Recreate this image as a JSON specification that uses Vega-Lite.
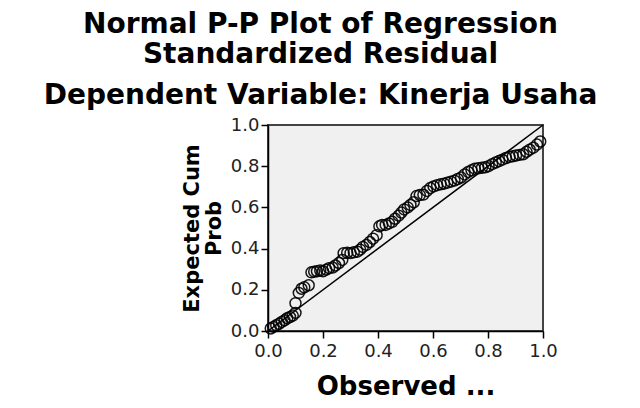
{
  "$schema": "https://vega.github.io/schema/vega-lite/v6.json",
  "autosize": {"type": "none"},
  "padding": {"left": 268, "top": 125, "right": 97, "bottom": 77},
  "width": 275,
  "height": 206,
  "background": "white",
  "title": {
    "text": ["Normal P-P Plot of Regression", "Standardized Residual"],
    "subtitle": "Dependent Variable: Kinerja Usaha",
    "anchor": "middle",
    "frame": "group",
    "dx": -85,
    "font": "DejaVu Sans",
    "fontSize": 28,
    "fontWeight": "bold",
    "lineHeight": 30,
    "color": "black",
    "subtitleFont": "DejaVu Sans",
    "subtitleFontSize": 28,
    "subtitleFontWeight": "bold",
    "subtitleColor": "black",
    "subtitlePadding": 13,
    "offset": 6
  },
  "config": {
    "view": {"fill": "#f0f0f0", "stroke": "#444444", "strokeWidth": 2},
    "axis": {
      "grid": false,
      "domainColor": "black",
      "domainWidth": 1.5,
      "tickColor": "black",
      "tickWidth": 1.5,
      "tickSize": 7,
      "labelFlush": false,
      "labelFont": "DejaVu Sans",
      "labelFontSize": 18,
      "labelColor": "#222222",
      "titleFont": "DejaVu Sans",
      "titleFontWeight": "bold",
      "titleColor": "black"
    }
  },
  "datasets": {
    "pts": [
      {"obs": 0.010, "exp": 0.012}, {"obs": 0.020, "exp": 0.020}, {"obs": 0.030, "exp": 0.028},
      {"obs": 0.040, "exp": 0.035}, {"obs": 0.050, "exp": 0.044}, {"obs": 0.060, "exp": 0.052},
      {"obs": 0.070, "exp": 0.062}, {"obs": 0.080, "exp": 0.068}, {"obs": 0.090, "exp": 0.075},
      {"obs": 0.100, "exp": 0.088}, {"obs": 0.100, "exp": 0.135}, {"obs": 0.112, "exp": 0.185},
      {"obs": 0.122, "exp": 0.205}, {"obs": 0.132, "exp": 0.212}, {"obs": 0.148, "exp": 0.222},
      {"obs": 0.158, "exp": 0.285}, {"obs": 0.168, "exp": 0.288}, {"obs": 0.178, "exp": 0.290},
      {"obs": 0.190, "exp": 0.294}, {"obs": 0.200, "exp": 0.290}, {"obs": 0.212, "exp": 0.298},
      {"obs": 0.222, "exp": 0.305}, {"obs": 0.235, "exp": 0.308}, {"obs": 0.245, "exp": 0.318},
      {"obs": 0.258, "exp": 0.330}, {"obs": 0.270, "exp": 0.345}, {"obs": 0.275, "exp": 0.378},
      {"obs": 0.288, "exp": 0.380}, {"obs": 0.300, "exp": 0.378}, {"obs": 0.312, "exp": 0.382},
      {"obs": 0.325, "exp": 0.385}, {"obs": 0.335, "exp": 0.395}, {"obs": 0.345, "exp": 0.408},
      {"obs": 0.358, "exp": 0.418}, {"obs": 0.370, "exp": 0.432}, {"obs": 0.382, "exp": 0.448},
      {"obs": 0.395, "exp": 0.465}, {"obs": 0.405, "exp": 0.508}, {"obs": 0.415, "exp": 0.515},
      {"obs": 0.428, "exp": 0.515}, {"obs": 0.440, "exp": 0.522}, {"obs": 0.452, "exp": 0.530},
      {"obs": 0.462, "exp": 0.545}, {"obs": 0.475, "exp": 0.560}, {"obs": 0.485, "exp": 0.575},
      {"obs": 0.495, "exp": 0.590}, {"obs": 0.508, "exp": 0.600}, {"obs": 0.518, "exp": 0.612},
      {"obs": 0.530, "exp": 0.625}, {"obs": 0.540, "exp": 0.655}, {"obs": 0.552, "exp": 0.660},
      {"obs": 0.565, "exp": 0.662}, {"obs": 0.578, "exp": 0.680}, {"obs": 0.590, "exp": 0.694},
      {"obs": 0.602, "exp": 0.702}, {"obs": 0.615, "exp": 0.708}, {"obs": 0.628, "exp": 0.712},
      {"obs": 0.640, "exp": 0.715}, {"obs": 0.652, "exp": 0.720}, {"obs": 0.665, "exp": 0.725},
      {"obs": 0.678, "exp": 0.730}, {"obs": 0.690, "exp": 0.738}, {"obs": 0.702, "exp": 0.745},
      {"obs": 0.715, "exp": 0.760}, {"obs": 0.728, "exp": 0.772}, {"obs": 0.740, "exp": 0.780},
      {"obs": 0.752, "exp": 0.788}, {"obs": 0.765, "exp": 0.790}, {"obs": 0.778, "exp": 0.792},
      {"obs": 0.790, "exp": 0.795}, {"obs": 0.802, "exp": 0.800}, {"obs": 0.815, "exp": 0.810},
      {"obs": 0.828, "exp": 0.818}, {"obs": 0.840, "exp": 0.825}, {"obs": 0.852, "exp": 0.832},
      {"obs": 0.865, "exp": 0.840}, {"obs": 0.878, "exp": 0.845}, {"obs": 0.890, "exp": 0.848},
      {"obs": 0.902, "exp": 0.852}, {"obs": 0.915, "exp": 0.855}, {"obs": 0.928, "exp": 0.858},
      {"obs": 0.940, "exp": 0.870}, {"obs": 0.952, "exp": 0.880}, {"obs": 0.965, "exp": 0.890},
      {"obs": 0.978, "exp": 0.905}, {"obs": 0.990, "exp": 0.920}
    ],
    "diag": [{"obs": 0, "exp": 0}, {"obs": 1, "exp": 1}]
  },
  "layer": [
    {
      "data": {"name": "diag"},
      "mark": {"type": "line", "color": "black", "strokeWidth": 1.5},
      "encoding": {
        "x": {"field": "obs", "type": "quantitative"},
        "y": {"field": "exp", "type": "quantitative"}
      }
    },
    {
      "data": {"name": "pts"},
      "mark": {"type": "point", "shape": "circle", "filled": false, "color": "black", "size": 120, "strokeWidth": 1.5, "opacity": 0.9},
      "encoding": {
        "x": {
          "field": "obs", "type": "quantitative",
          "scale": {"domain": [0, 1], "nice": false},
          "axis": {"values": [0, 0.2, 0.4, 0.6, 0.8, 1], "format": ".1f", "title": "Observed ...", "titleFontSize": 26, "titlePadding": 13, "labelPadding": 4}
        },
        "y": {
          "field": "exp", "type": "quantitative",
          "scale": {"domain": [0, 1], "nice": false},
          "axis": {"values": [0, 0.2, 0.4, 0.6, 0.8, 1], "format": ".1f", "title": ["Expected Cum", "Prob"], "titleFontSize": 21, "titleLineHeight": 22, "titlePadding": 6, "labelPadding": 2}
        }
      }
    }
  ]
}
